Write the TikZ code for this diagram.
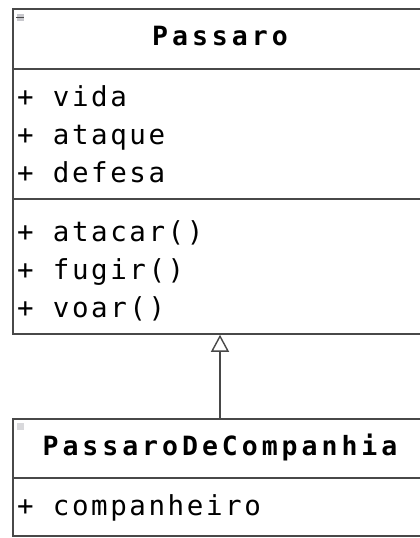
\documentclass[tikz,border=0pt]{standalone}
\usepackage{fontspec}
\usetikzlibrary{arrows.meta}
\newfontfamily\umlreg[LetterSpace=9.4]{DejaVu Sans Mono}
\newfontfamily\umlbold[LetterSpace=15]{DejaVu Sans Mono Bold}
\definecolor{umlline}{RGB}{72,72,72}
\definecolor{iconfill}{RGB}{200,200,205}
\tikzset{
  part/.style={draw=umlline, line width=1.6pt, rectangle, inner sep=0pt, minimum width=414pt},
  member/.style={anchor=base west, inner sep=0pt, font=\umlreg\fontsize{27.5}{30}\selectfont},
  title/.style={anchor=base, inner sep=0pt, font=\umlbold\fontsize{26.5}{28}\selectfont},
  icon/.style={fill=iconfill, draw=none, minimum size=7pt, inner sep=0pt},
  inherit/.style={draw=umlline, line width=1.6pt, -{Triangle[open, length=17pt, width=18pt, line width=1.4pt]}}
}
\begin{document}
\begin{tikzpicture}[x=1pt, y=-1pt]
\useasboundingbox (0,0) rectangle (420,538);
\clip (0,0) rectangle (420,538);
\fill[white] (0,0) rectangle (420,538);
% Passaro
\node[part, minimum height=60pt] (phead) at (220,39) {};
\node[part, minimum height=130pt] (pattr) at (220,134) {};
\node[part, minimum height=135pt] (pmeth) at (220,266.5) {};
\node[icon] (picon) at (20,17) {};
\draw[umlline, line width=0.8pt] (picon.west) -- (picon.east);
\node[title] (ptitle) at (220,45) {Passaro};
\node[member] (a1) at (17,106) {+ vida};
\node[member] (a2) at (17,144) {+ ataque};
\node[member] (a3) at (17,182) {+ defesa};
\node[member] (m1) at (17,241) {+ atacar()};
\node[member] (m2) at (17,279) {+ fugir()};
\node[member] (m3) at (17,317) {+ voar()};
% PassaroDeCompanhia
\node[part, minimum height=59pt] (chead) at (220,448.5) {};
\node[part, minimum height=58pt] (cattr) at (220,507) {};
\node[icon, fill=iconfill!70!white] (cicon) at (20.5,426.5) {};
\node[title] (ctitle) at (220,455) {PassaroDeCompanhia};
\node[member] (c1) at (17,515) {+ companheiro};
% inheritance
\draw[inherit] (chead.north) -- (pmeth.south);
\end{tikzpicture}
\end{document}
